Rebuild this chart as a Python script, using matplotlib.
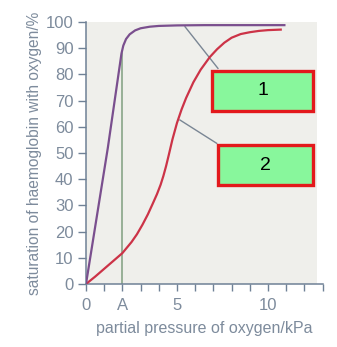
import matplotlib
matplotlib.use('Agg')
import matplotlib.pyplot as plt
from matplotlib.patches import Rectangle

# curve 1 (purple)
p_x = [0, 0.6, 1.2, 1.95, 2.05, 2.2, 2.4, 2.7, 3.0, 3.5, 4.0, 5.0, 6.5, 8.0, 9.5, 10.9]
p_y = [0, 26, 52, 88, 91, 93.5, 95.3, 96.8, 97.6, 98.2, 98.5, 98.7, 98.8, 98.8, 98.8, 98.8]

# curve 2 (red)
r_x = [0, 0.5, 1.0, 1.5, 2.0, 2.5, 2.8, 3.1, 3.4, 3.65, 3.9, 4.1, 4.25, 4.4, 4.55, 4.75, 5.0,
       5.25, 5.5, 5.9, 6.3, 6.8, 7.2, 7.6, 8.0, 8.5, 9.0, 9.5, 10.0, 10.7]
r_y = [0, 2.8, 5.8, 8.8, 11.8, 16.0, 19.0, 22.6, 26.6, 30.4, 34.3, 37.9, 41.2, 45.0, 49.3, 55.2, 61.5,
       66.6, 71.0, 77.0, 81.8, 86.6, 89.6, 92.1, 94.0, 95.4, 96.1, 96.6, 96.9, 97.1]

x_ticks = list(range(0, 14))
x_ticklabels = ['0', '', 'A', '', '', '5', '', '', '', '', '10', '', '', '']
y_ticks = list(range(0, 101, 10))
A = 2

txt_col = '#7d8b9c'
ax_col = '#6f8196'

plt.rcParams['font.family'] = ['Liberation Sans', 'DejaVu Sans']

fig = plt.figure(figsize=(3.37, 3.47), dpi=100)
ax = fig.add_axes([86/337, 63/347, 236.6/337, 262/347])
ax.set_xlim(0, 13)
ax.set_ylim(0, 100)
ax.set_facecolor('white')

# grey plot area
ax.add_patch(Rectangle((0, 0), 12.7, 100, facecolor='#efefeb', edgecolor='none', zorder=0))

# line at A
ax.plot([A, A], [0, 88], color='#7f9f7f', lw=1.1, zorder=2)

ax.plot(r_x, r_y, color='#cc3347', lw=1.6, zorder=3)
ax.plot(p_x, p_y, color='#7a4f8e', lw=1.6, zorder=3)

# leader lines
ax.plot([5.44, 7.25], [98.2, 82.3], color='#7a8694', lw=1.0, zorder=2)
ax.plot([5.16, 7.18], [62.6, 53.7], color='#7a8694', lw=1.0, zorder=2)

# label boxes
ax.add_patch(Rectangle((6.91, 66.2), 5.58, 15.2, facecolor='#88f79c', edgecolor='#e3191c', lw=2.4, zorder=5, clip_on=False))
ax.add_patch(Rectangle((7.24, 37.8), 5.25, 15.3, facecolor='#88f79c', edgecolor='#e3191c', lw=2.4, zorder=5, clip_on=False))
ax.text(9.7, 73.8, '1', ha='center', va='center', fontsize=14, color='black', zorder=6)
ax.text(9.85, 45.4, '2', ha='center', va='center', fontsize=14, color='black', zorder=6)

ax.spines['top'].set_visible(False)
ax.spines['right'].set_visible(False)
for s in ['left', 'bottom']:
    ax.spines[s].set_color(ax_col)
    ax.spines[s].set_linewidth(1.1)

ax.set_xticks(x_ticks)
ax.set_xticklabels(x_ticklabels)
ax.set_yticks(y_ticks)
ax.tick_params(axis='x', length=5, width=1.0, color=ax_col, labelcolor=txt_col, labelsize=12, pad=5)
ax.tick_params(axis='y', length=6, width=1.0, color=ax_col, labelcolor=txt_col, labelsize=12, pad=3)

ax.set_xlabel('partial pressure of oxygen/kPa', color=txt_col, fontsize=11.5, labelpad=6)
ax.set_ylabel('saturation of haemoglobin with oxygen/%', color=txt_col, fontsize=11.2, labelpad=3)

plt.savefig('out.png', dpi=100)
